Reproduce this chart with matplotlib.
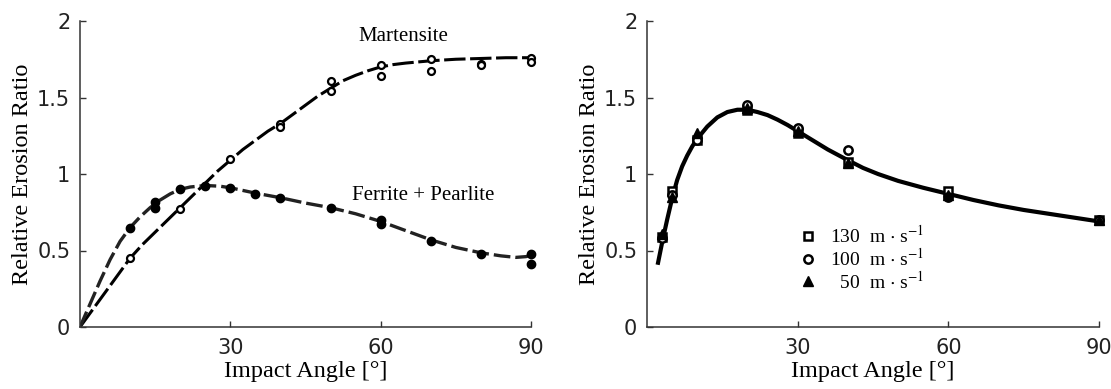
import matplotlib
matplotlib.use('Agg')
from matplotlib import pyplot as plt

# left panel: measured points
mart_angle = [10, 20, 30, 40, 40, 50, 50, 60, 60, 70, 70, 80, 80, 90, 90]
mart_ratio = [0.45, 0.77, 1.10, 1.33, 1.31, 1.61, 1.54, 1.71, 1.64, 1.75, 1.67, 1.72, 1.71, 1.76, 1.73]
ferr_angle = [10, 15, 15, 20, 25, 30, 35, 40, 50, 60, 60, 70, 80, 90, 90]
ferr_ratio = [0.65, 0.82, 0.78, 0.90, 0.92, 0.91, 0.87, 0.84, 0.78, 0.70, 0.67, 0.56, 0.48, 0.48, 0.41]

# left panel: fitted curves
mart_fit_x = [0, 2, 4, 6, 8, 10, 12.5, 15, 17.5, 20, 22.5, 25, 27.5, 30, 32.5, 35, 37.5, 40, 42.5, 45,
              47.5, 50, 52.5, 55, 57.5, 60, 62.5, 65, 70, 75, 80, 85, 90]
mart_fit_y = [0, 0.09, 0.18, 0.27, 0.36, 0.45, 0.54, 0.62, 0.70, 0.78, 0.86, 0.94, 1.02, 1.09, 1.16, 1.22,
              1.28, 1.33, 1.39, 1.45, 1.51, 1.56, 1.61, 1.645, 1.675, 1.70, 1.715, 1.725, 1.74, 1.75,
              1.755, 1.76, 1.76]
ferr_fit_x = [0, 2, 4, 6, 8, 10, 12, 14, 16, 18, 20, 22, 25, 28, 30, 35, 40, 45, 50, 55, 60, 65, 70, 75,
              80, 84, 87, 89, 90]
ferr_fit_y = [0, 0.15, 0.30, 0.44, 0.56, 0.65, 0.72, 0.78, 0.83, 0.87, 0.90, 0.915, 0.925, 0.92, 0.91,
              0.875, 0.845, 0.81, 0.78, 0.74, 0.69, 0.63, 0.57, 0.52, 0.485, 0.465, 0.455, 0.46, 0.47]

# right panel: measured points per impact velocity
angle = [3, 5, 10, 20, 30, 40, 60, 90]
v130 = [0.59, 0.89, 1.22, 1.42, 1.27, 1.08, 0.89, 0.70]
v100 = [0.58, 0.86, 1.22, 1.45, 1.30, 1.16, 0.85, 0.70]
v50 = [0.61, 0.85, 1.27, 1.43, 1.28, 1.07, 0.86, 0.70]
vel_labels = ['130  m $\\cdot$ s$^{-1}$', '100  m $\\cdot$ s$^{-1}$', '  50  m $\\cdot$ s$^{-1}$']

# right panel: fitted curve
fit_x = [2.2, 3, 4, 5, 6, 7, 8, 9, 10, 12, 14, 16, 18, 20, 22, 24, 26, 28, 30, 33, 36, 40, 43, 46, 50,
         55, 60, 65, 70, 75, 80, 85, 90]
fit_y = [0.42, 0.55, 0.70, 0.84, 0.96, 1.05, 1.12, 1.18, 1.23, 1.31, 1.37, 1.405, 1.42, 1.42, 1.405,
         1.385, 1.355, 1.32, 1.28, 1.22, 1.16, 1.09, 1.04, 1.00, 0.955, 0.91, 0.87, 0.83, 0.795, 0.765,
         0.74, 0.715, 0.69]

xticks = [30, 60, 90]
yticks = [0, 0.5, 1, 1.5, 2]
ytick_labels = ['0', '0.5', '1', '1.5', '2']

plt.rcParams['mathtext.fontset'] = 'stix'
serif = 'Liberation Serif'


def style(ax):
    ax.set_xlim(0, 90), ax.set_ylim(0, 2)
    for s in ['top', 'right']:
        ax.spines[s].set_visible(False)
    for s in ['left', 'bottom']:
        ax.spines[s].set_linewidth(1.1), ax.spines[s].set_color('#333333')
    ax.set_xticks(xticks), ax.set_yticks(yticks), ax.set_yticklabels(ytick_labels)
    ax.tick_params(direction='in', length=4, width=1, colors='#333333', labelsize=15, pad=8)
    ax.tick_params(axis='y', pad=7)
    for t in ax.get_xticklabels() + ax.get_yticklabels():
        t.set_color('#222222'), t.set_family('DejaVu Sans')
    ax.set_xlabel('Impact Angle [°]', family=serif, fontsize=17.5, labelpad=2)
    ax.set_ylabel('Relative Erosion Ratio', family=serif, fontsize=17.5, labelpad=3)


fig = plt.figure(figsize=(11.11, 3.89), dpi=100)
ax1 = fig.add_axes([80 / 1111, 62 / 389, 451 / 1111, 306 / 389])
ax2 = fig.add_axes([647 / 1111, 62 / 389, 452 / 1111, 306 / 389])

ax1.plot(mart_fit_x, mart_fit_y, color='black', lw=2.2, dashes=(7, 1.5))
ax1.plot(ferr_fit_x, ferr_fit_y, color='#222222', lw=2.4, dashes=(5, 1.5))
ax1.plot(mart_angle, mart_ratio, 'o', ms=5, mfc='white', mec='black', mew=1.6, clip_on=False)
ax1.plot(ferr_angle, ferr_ratio, 'o', ms=6, color='black', clip_on=False)
ax1.text(64.5, 1.9, 'Martensite', family=serif, fontsize=15, ha='center', va='center')
ax1.text(68.5, 0.86, 'Ferrite + Pearlite', family=serif, fontsize=15, ha='center', va='center')
style(ax1)

ax2.plot(fit_x, fit_y, color='black', lw=3)
h1, = ax2.plot(angle, v130, 's', ms=5.5, mfc='white', mec='black', mew=1.8, clip_on=False)
h2, = ax2.plot(angle, v100, 'o', ms=6, mfc='white', mec='black', mew=1.8, clip_on=False)
h3, = ax2.plot(angle, v50, '^', ms=6.5, color='black', clip_on=False)
ax2.legend([h1, h2, h3], vel_labels, loc='upper left', bbox_to_anchor=(0.335, 0.335), frameon=False,
           prop={'family': serif, 'size': 14}, handlelength=1, handletextpad=0.6, labelspacing=0.05,
           borderpad=0, borderaxespad=0)
style(ax2)

plt.savefig('out.png', dpi=100)
